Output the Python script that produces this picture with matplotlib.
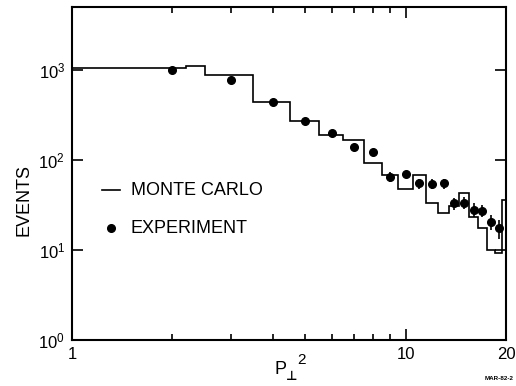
import numpy as np
import matplotlib
matplotlib.use("Agg")
import matplotlib.pyplot as plt
from matplotlib.ticker import FixedLocator, NullFormatter, NullLocator

# Monte Carlo histogram (bin edges in P_perp^2, events per bin)
mc_edges = [1, 2.2, 2.5, 3.5, 4.5, 5.5, 6.5, 7.5, 8.5, 9.5, 10.5,
            11.5, 12.5, 13.5, 14.5, 15.5, 16.5, 17.5, 18.5, 19.5, 20]
mc_counts = [1060, 1100, 880, 435, 273, 190, 167, 92, 68, 47, 68,
             33, 26, 31, 43, 23, 17.5, 10, 9.2, 36]

# experiment points
exp_x = [2, 3, 4, 5, 6, 7, 8, 9, 10, 11, 12, 13, 14, 15, 16, 17, 18, 19]
exp_y = [1000, 774, 444, 273, 201, 141, 124, 65, 69, 55, 54, 55,
         33, 33.5, 28, 27.3, 20.6, 17.4]
exp_err = [0, 0, 0, 0, 0, 0, 0, 8, 0, 7, 7, 7, 5, 5, 5, 4, 4, 4]

plt.rcParams['font.family'] = ['Liberation Sans', 'DejaVu Sans']
plt.rcParams['mathtext.fontset'] = 'custom'
plt.rcParams['mathtext.rm'] = 'Liberation Sans'

W, H = 516, 386
fig = plt.figure(figsize=(W / 100, H / 100), dpi=100)
ax = fig.add_axes([72 / W, 1 - 340 / H, (506 - 72) / W, (340 - 7) / H])

# step histogram
ax.stairs(mc_counts, mc_edges, color='black', linewidth=1.2, baseline=None)

ax.errorbar(exp_x, exp_y, yerr=exp_err, fmt='o', color='black',
            markersize=5.5, elinewidth=1.2, capsize=0)

ax.set_xscale('log')
ax.set_yscale('log')
ax.set_xlim(1, 20)
ax.set_ylim(1, 5000)

ax.xaxis.set_major_locator(FixedLocator([1, 10, 20]))
ax.xaxis.set_minor_locator(FixedLocator([2, 3, 4, 5, 6, 7, 8, 9]))
ax.xaxis.set_minor_formatter(NullFormatter())
ax.set_xticklabels(['1', '10', '20'])
ax.yaxis.set_major_locator(FixedLocator([1, 10, 100, 1000]))
ax.yaxis.set_minor_locator(NullLocator())
ax.set_yticklabels([r'$\mathregular{10^0}$', r'$\mathregular{10^1}$',
                    r'$\mathregular{10^2}$', r'$\mathregular{10^3}$'])

ax.tick_params(which='both', direction='in', top=True, right=True,
               labelsize=12, width=1.2)
ax.tick_params(which='major', length=8, pad=5)
ax.tick_params(which='minor', length=4)
for s in ax.spines.values():
    s.set_linewidth(1.5)

ax.set_ylabel('EVENTS', fontsize=13, va='center')
ax.yaxis.set_label_coords((24 - 72) / 434, (340 - 200) / 333)

# x label: P with perp subscript and squared
fig.text(280 / W, 1 - 370 / H, 'P', fontsize=13, ha='center', va='center')
fig.text(292 / W, 1 - 377 / H, '\u22a5', fontsize=9, fontweight='bold',
         family='DejaVu Sans', ha='center', va='center')
fig.text(301 / W, 1 - 360 / H, '2', fontsize=11, ha='center', va='center')

# hand-drawn style legend
ax.plot([1.23, 1.39], [46, 46], color='black', linewidth=1.2)
ax.text(1.50, 46, 'MONTE CARLO', fontsize=13, va='center', ha='left')
ax.plot([1.306], [17.5], 'o', color='black', markersize=5.5)
ax.text(1.50, 17.5, 'EXPERIMENT', fontsize=13, va='center', ha='left')

fig.text(0.995, 0.012, 'MAR-82-2', fontsize=4.5, fontweight='bold',
         ha='right', va='bottom')

fig.savefig('out.png', dpi=100)
